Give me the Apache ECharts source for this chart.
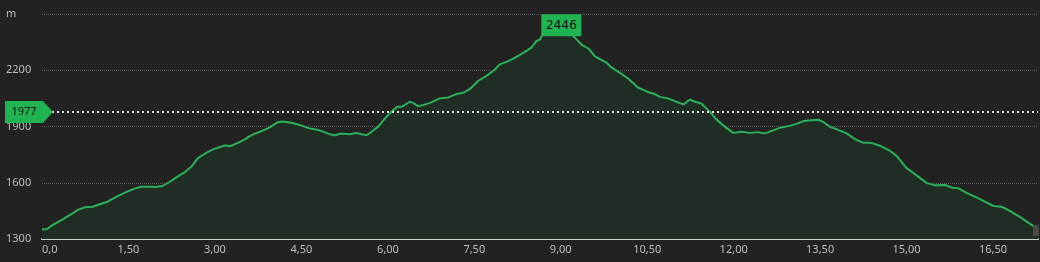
<!DOCTYPE html>
<html>
<head>
<meta charset="utf-8">
<script src="https://cdn.jsdelivr.net/npm/echarts@6/dist/echarts.min.js"></script>
<style>
html,body{margin:0;padding:0;background:#222222;}
#chart{width:1040px;height:262px;}
</style>
</head>
<body>
<div id="chart"></div>
<script>
// distance (km)
const distances = [0.00,0.08,0.19,0.36,0.53,0.62,0.74,0.88,1.00,1.14,1.23,1.35,1.46,1.58,1.72,1.87,1.98,2.10,2.21,2.33,2.47,2.59,2.70,2.79,2.88,2.94,3.05,3.17,3.27,3.40,3.52,3.63,3.78,3.92,4.01,4.09,4.18,4.33,4.41,4.53,4.64,4.79,4.90,4.99,5.08,5.19,5.34,5.45,5.54,5.63,5.72,5.77,5.83,5.95,6.06,6.16,6.24,6.38,6.44,6.52,6.61,6.73,6.90,7.05,7.19,7.31,7.42,7.57,7.71,7.86,7.94,8.06,8.17,8.35,8.49,8.58,8.64,8.67,8.76,8.86,8.95,9.01,9.08,9.15,9.22,9.36,9.48,9.59,9.71,9.80,9.88,10.00,10.17,10.34,10.52,10.63,10.72,10.86,10.98,11.13,11.24,11.33,11.44,11.47,11.59,11.70,11.85,11.99,12.14,12.28,12.43,12.54,12.66,12.80,12.95,13.09,13.21,13.35,13.47,13.56,13.67,13.79,13.96,14.11,14.25,14.37,14.54,14.71,14.83,15.00,15.18,15.35,15.49,15.67,15.78,15.90,16.05,16.22,16.36,16.51,16.65,16.80,16.97,17.20,17.28];
// elevation (m)
const elevations = [1352,1352,1375,1405,1437,1455,1469,1472,1485,1499,1515,1534,1550,1566,1579,1579,1577,1584,1604,1629,1655,1685,1730,1748,1765,1774,1787,1799,1796,1813,1831,1854,1872,1890,1907,1923,1927,1920,1913,1902,1890,1881,1870,1859,1853,1863,1859,1866,1859,1854,1872,1885,1898,1943,1978,2005,2005,2032,2026,2009,2014,2026,2050,2055,2073,2080,2099,2144,2170,2204,2231,2245,2261,2293,2321,2357,2364,2382,2405,2428,2441,2446,2438,2415,2382,2337,2316,2275,2254,2239,2215,2191,2156,2108,2083,2073,2058,2050,2035,2018,2044,2032,2023,2019,1978,1938,1898,1866,1872,1866,1870,1863,1877,1893,1902,1914,1929,1933,1936,1923,1898,1885,1863,1831,1813,1814,1797,1771,1742,1678,1638,1598,1587,1588,1575,1570,1545,1521,1499,1476,1472,1449,1417,1369,1357];
const yTicks = [1300,1600,1900,2200,2500];
const yTopLabel = 'm';
const refLevel = 1977;

const chart = echarts.init(document.getElementById('chart'), null, {renderer:'canvas'});
const data = distances.map((d,i)=>[d, elevations[i]]);
const xMax = distances[distances.length-1];

chart.setOption({
  backgroundColor:'#222222',
  animation:false,
  grid:{left:42, right:2, top:14, bottom:23},
  xAxis:{
    type:'value', min:0, max:xMax, interval:1.5,
    axisLine:{show:true, onZero:false, lineStyle:{color:'#cdd5da', width:2}},
    axisTick:{show:false},
    splitLine:{show:false},
    axisLabel:{
      color:'#bdbdbd', fontSize:11, fontFamily:'Noto Sans', margin:5,
      showMaxLabel:false, alignMinLabel:'left',
      formatter:v=> v===0 ? '0,0' : v.toFixed(2).replace('.',',')
    }
  },
  yAxis:{
    type:'value', min:yTicks[0], max:yTicks[yTicks.length-1], interval:yTicks[1]-yTicks[0],
    axisLine:{show:false}, axisTick:{show:false},
    splitLine:{show:true, lineStyle:{color:'#5a5a5a', type:'dotted', width:1}},
    axisLabel:{
      color:'#bdbdbd', fontSize:11, fontFamily:'Noto Sans', align:'left', margin:36,
      formatter:v=> v===yTicks[yTicks.length-1] ? yTopLabel : String(v)
    }
  },
  series:[{
    type:'line',
    data:data,
    showSymbol:false,
    smooth:false,
    lineStyle:{color:'#2bb159', width:2},
    areaStyle:{color:'#1f2d25', opacity:1},
    z:2,
    markLine:{
      silent:true, symbol:'none', z:3,
      label:{show:false},
      lineStyle:{color:'#e0e0e0', type:[2,3], width:2},
      data:[{yAxis:refLevel}]
    },
    markPoint:{
      silent:true, z:6,
      data:[
        {
          type:'max',
          symbol:'rect', symbolSize:[40,22], symbolOffset:[0,1],
          itemStyle:{color:'#20b352'},
          label:{show:true, position:'inside', color:'#111', fontSize:13, fontFamily:'DejaVu Sans Mono',
                 formatter:p=>String(p.value)}
        },
        {
          coord:[0, refLevel], value:refLevel,
          symbol:'path://M0,0 L38,0 L48,11 L38,22 L0,22 Z', symbolKeepAspect:false,
          symbolSize:[48,22], symbolOffset:[-13,0],
          itemStyle:{color:'#20b352'},
          label:{show:true, position:'inside', offset:[-5,0], color:'#111', fontSize:11, fontFamily:'Noto Sans',
                 formatter:()=>String(refLevel)}
        }
      ]
    }
  }],
  graphic:[{
    type:'rect', right:1, bottom:26, z:10,
    shape:{width:6, height:11},
    style:{fill:'#4a4a4a'}
  }]
});
</script>
</body>
</html>
